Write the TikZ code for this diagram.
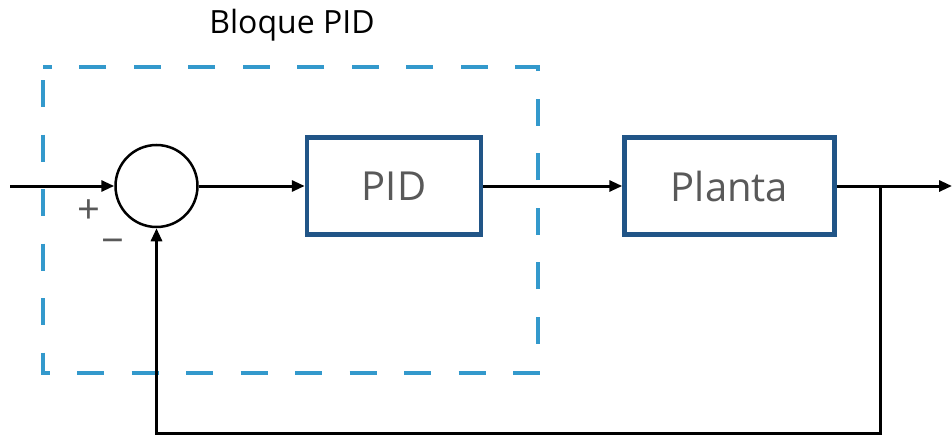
\documentclass[tikz,border=0pt]{standalone}
\usepackage{fontspec}
\setmainfont{Open Sans}
\usetikzlibrary{arrows.meta}
\definecolor{dashblue}{RGB}{51,153,204}
\definecolor{boxblue}{RGB}{33,85,135}
\definecolor{txtgray}{RGB}{89,89,89}
\begin{document}
\begin{tikzpicture}[x=1pt,y=-1pt,
  sig/.style={line width=3pt,black,-{Triangle[length=13pt,width=11pt]}},
  blockbox/.style={draw=boxblue,line width=4.5pt,fill=white,minimum width=174pt,minimum height=97pt,inner sep=0pt,font=\fontsize{40}{44}\selectfont,text=txtgray},
  sumc/.style={circle,draw=black,line width=2.5pt,minimum size=82pt,inner sep=0pt,fill=white},
  signlbl/.style={text=txtgray,font=\fontsize{40}{42}\selectfont,inner sep=0pt}]
\useasboundingbox (0,0) rectangle (952,436);
% dashed PID region
\draw[dashblue,line width=3.5pt,dash pattern=on 27pt off 27.5pt,dash phase=-13pt] (43,67) rectangle (538,373);
\node[font=\fontsize{32}{36}\selectfont,anchor=center] (title) at (292,25) {Bloque PID};
% blocks
\node[sumc] (sum) at (156.5,186) {};
\node[blockbox] (pid) at (394,186) {PID};
\node[blockbox,minimum width=210pt] (plant) at (729.5,186) {Planta};
\coordinate (in) at (10,186);
\coordinate (out) at (952,186);
\coordinate (br) at (880,186);
\coordinate (bl) at (880,433);
\coordinate (bll) at (156.5,433);
\draw[sig] (in) -- (sum.west);
\draw[sig] (sum.east) -- (pid.west);
\draw[sig] (pid.east) -- (plant.west);
\draw[sig] (plant.east) -- (out);
\draw[sig] (br) -- (bl) -- (bll) -- (sum.south);
\node[signlbl] (plus) at (88.5,211.5) {+};
\node[signlbl] (minus) at (112.5,247) {\textminus};
\end{tikzpicture}
\end{document}
